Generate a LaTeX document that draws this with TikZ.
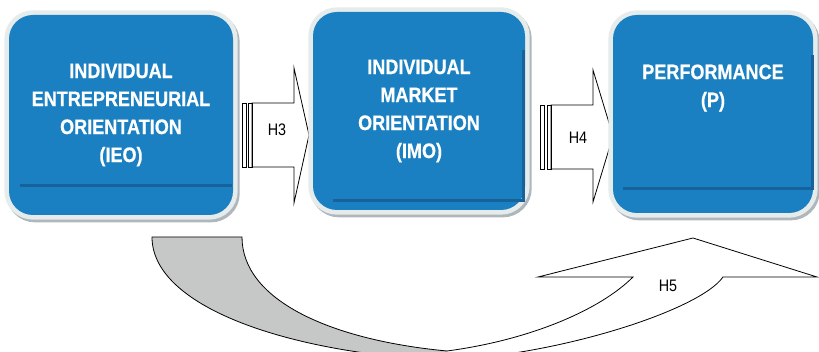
\documentclass[tikz,border=0pt]{standalone}
\usepackage{fontspec}
\setmainfont{Liberation Sans}
\newfontfamily\narrowfont{Liberation Sans}[FakeStretch=0.86, BoldFeatures={FakeBold=0.6}]
\usetikzlibrary{positioning,calc}

\definecolor{boxblue}{HTML}{1A80C1}
\definecolor{boxdark}{HTML}{17629A}
\definecolor{rimgray}{HTML}{E6EBEB}
\definecolor{rimshadow}{HTML}{AEB7BC}
\definecolor{bandgray}{HTML}{C6C7C7}

\tikzset{
  box/.style={rounded corners=18pt, fill=boxblue, inner sep=0pt, text=white, align=center,
    font=\narrowfont\bfseries\fontsize{15.75}{21}\selectfont,
    preaction={draw=rimshadow, line width=7pt, transform canvas={shift={(1.5pt,-2pt)}}},
    preaction={draw=rimgray, line width=7pt}},
  boxtext/.style={inner sep=0pt, text=white, align=center,
    font=\narrowfont\bfseries\fontsize{15.75}{21}\selectfont},
  darkline/.style={draw=boxdark, line width=2.4pt},
  outline/.style={draw=black, line width=0.6pt, line join=miter},
  hlabel/.style={inner sep=0pt, font=\narrowfont\fontsize{12.5}{14}\selectfont}
}

\begin{document}
\begin{tikzpicture}[x=0.75pt,y=-0.75pt]
  \useasboundingbox (0,0) rectangle (819,352);

  % hypothesis arrows between the boxes
  \filldraw[outline, fill=white] (252,103) -- (294,103) -- (294,68) -- (309,135) -- (294,203) -- (294,167) -- (252,167) -- cycle;
  \draw[outline] (242,103) rectangle (246,167);
  \draw[outline] (248,103) rectangle (252,167);
  \filldraw[outline, fill=white] (551,105) -- (593,105) -- (593,70) -- (613,136) -- (593,202) -- (593,169) -- (551,169) -- cycle;
  \draw[outline] (540,105) rectangle (544,169);
  \draw[outline] (547,105) rectangle (551,169);

  % construct boxes
  \node[box, minimum width=168pt, minimum height=150pt] (ieo) at (121,115)
    {INDIVIDUAL\\ENTREPRENEURIAL\\ORIENTATION\\(IEO)};
  \node[box, minimum width=159pt, minimum height=148.5pt] (imo) at (419,111)
    {INDIVIDUAL\\MARKET\\ORIENTATION\\(IMO)};
  \node[box, minimum width=150pt, minimum height=148.5pt] (perf) at (713,114) {};
  \node[boxtext, anchor=north] (perftext) at ([shift={(0,49.5)}]perf.north) {PERFORMANCE\\(P)};

  % dark lines inside the boxes
  \draw[darkline] ([shift={(11,-30)}]ieo.south west) -- ([shift={(-1,-30)}]ieo.south east);
  \draw[darkline] ([shift={(20,-10)}]imo.south west) -- ([shift={(-2,-10)}]imo.south east) -- ([shift={(-2,38)}]imo.north east);
  \draw[darkline] ([shift={(10,-25)}]perf.south west) -- ([shift={(-1,-25)}]perf.south east) -- ([shift={(-1,40)}]perf.north east);

  % labels
  \node[hlabel] (h3) at (277,130) {H3};
  \node[hlabel] (h4) at (578,138) {H4};
  \node[hlabel] (h5) at (668,286) {H5};

  % curved arrow IEO -> P
  \begin{scope}
    \clip (0,0) rectangle (819,352);
    \fill[bandgray] (152,237) -- (242,237) .. controls (242,300) and (330,340) .. (447,351)
      -- (447,360) .. controls (300,355) and (152,310) .. (152,237) -- cycle;
    \draw[outline] (447,351) .. controls (330,340) and (242,300) .. (242,237) -- (152,237)
      .. controls (152,310) and (300,355) .. (447,360);
    \draw[outline] (447,351) .. controls (530,340) and (600,310) .. (633,277) -- (538,277)
      -- (693,238) -- (817,277) -- (723,277) .. controls (700,310) and (560,355) .. (447,360);
  \end{scope}
\end{tikzpicture}
\end{document}
